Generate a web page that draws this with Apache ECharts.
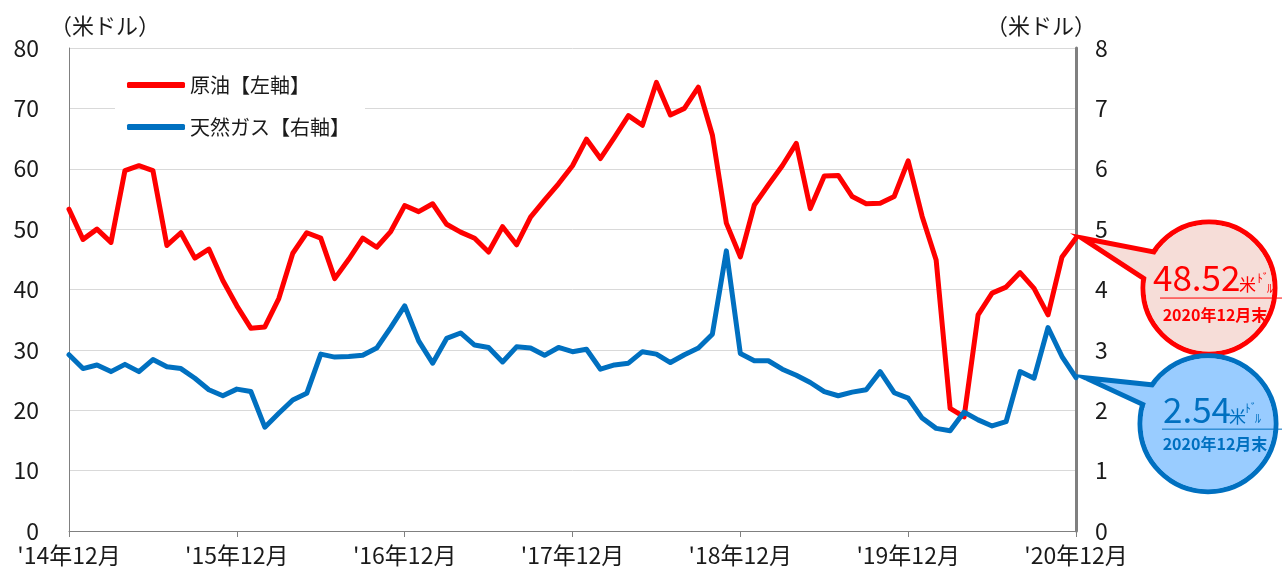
<!DOCTYPE html>
<html><head><meta charset="utf-8">
<script src="https://cdn.jsdelivr.net/npm/echarts@6/dist/echarts.min.js"></script>
<style>html,body{margin:0;padding:0;background:#fff}#c{width:1282px;height:574px}</style>
</head><body><div id="c"></div>
<script>
// categories: monthly from Dec 2014 to Dec 2020
const categories = [];
for (let y = 2014; y <= 2020; y++) {
  for (let m = 1; m <= 12; m++) {
    if (y === 2014 && m < 12) continue;
    if (y === 2020 && m > 12) continue;
    categories.push("'" + String(y).slice(2) + "年" + m + "月");
  }
}
const oilName = '原油【左軸】';
const gasName = '天然ガス【右軸】';
const oil = [53.3,48.3,50.0,47.8,59.7,60.5,59.7,47.3,49.4,45.2,46.7,41.5,37.3,33.6,33.8,38.5,46.0,49.4,48.5,41.8,45.0,48.5,47.0,49.6,
  53.9,52.9,54.2,50.8,49.5,48.5,46.2,50.4,47.4,52.0,54.8,57.5,60.5,64.9,61.7,65.2,68.8,67.2,74.3,68.9,70.0,73.5,65.6,51.0,
  45.4,54.0,57.3,60.5,64.2,53.4,58.8,58.9,55.4,54.2,54.3,55.4,61.3,52.1,44.9,20.3,18.9,35.8,39.4,40.4,42.8,40.2,35.8,45.4,48.52];
const gas = [2.92,2.69,2.75,2.64,2.76,2.64,2.84,2.72,2.69,2.53,2.34,2.24,2.35,2.31,1.72,1.95,2.17,2.28,2.93,2.88,2.89,2.91,3.03,3.37,
  3.73,3.15,2.78,3.19,3.28,3.08,3.04,2.80,3.05,3.03,2.91,3.04,2.97,3.01,2.68,2.75,2.78,2.97,2.93,2.79,2.92,3.03,3.26,4.64,
  2.94,2.82,2.82,2.68,2.58,2.46,2.31,2.24,2.30,2.34,2.64,2.29,2.20,1.87,1.70,1.66,1.97,1.84,1.74,1.81,2.64,2.53,3.37,2.89,2.54];
const unitName = '（米ドル）';
const lastLabel = '2020年12月末';

const FONT = '"Noto Sans CJK JP", "Noto Sans", sans-serif';
const RED = '#ff0000', BLUE = '#0070c0';
const chart = echarts.init(document.getElementById('c'), null, {renderer: 'canvas'});
chart.setOption({
  animation: false,
  textStyle: {fontFamily: FONT},
  grid: {left: 69, right: 206, top: 48, bottom: 43},
  legend: {
    orient: 'vertical', left: 115, top: 64,
    padding: [10, 15, 10, 12], itemGap: 20,
    backgroundColor: '#ffffff',
    icon: 'roundRect', itemWidth: 58, itemHeight: 6,
    textStyle: {fontFamily: FONT, fontSize: 20, color: '#1a1a1a', lineHeight: 22},
    data: [oilName, gasName]
  },
  xAxis: {
    type: 'category', data: categories, boundaryGap: false,
    axisLine: {lineStyle: {color: '#808080', width: 1}},
    axisTick: {interval: 11, length: 6, lineStyle: {color: '#808080'}},
    axisLabel: {interval: 11, fontSize: 23, color: '#1a1a1a', margin: 13, fontFamily: FONT},
    splitLine: {show: false}
  },
  yAxis: [{
    type: 'value', min: 0, max: 80, interval: 10,
    name: unitName, nameLocation: 'end', nameGap: 11,
    nameTextStyle: {fontSize: 22, color: '#1a1a1a', align: 'left', padding: [0, 0, 0, -19], fontFamily: FONT},
    axisLine: {show: true, lineStyle: {color: '#808080', width: 1}},
    axisTick: {show: false},
    axisLabel: {fontSize: 23, color: '#1a1a1a', margin: 30, fontFamily: FONT},
    splitLine: {lineStyle: {color: '#d9d9d9', width: 1}}
  }, {
    type: 'value', min: 0, max: 8, interval: 1, position: 'right',
    name: unitName, nameLocation: 'end', nameGap: 11,
    nameTextStyle: {fontSize: 22, color: '#1a1a1a', align: 'right', padding: [0, -20, 0, 0], fontFamily: FONT},
    axisLine: {show: true, lineStyle: {color: '#808080', width: 3}},
    axisTick: {show: false},
    axisLabel: {fontSize: 23, color: '#1a1a1a', margin: 19, fontFamily: FONT},
    splitLine: {show: false}
  }],
  series: [{
    name: oilName, type: 'line', yAxisIndex: 0, data: oil,
    symbol: 'none', smooth: false,
    lineStyle: {color: RED, width: 5, cap: 'round', join: 'round'},
    itemStyle: {color: RED}
  }, {
    name: gasName, type: 'line', yAxisIndex: 1, data: gas,
    symbol: 'none', smooth: false,
    lineStyle: {color: BLUE, width: 5, cap: 'round', join: 'round'},
    itemStyle: {color: BLUE}
  }]
});

// callouts anchored to last data points
const n = categories.length - 1;
const po = chart.convertToPixel({xAxisIndex: 0, yAxisIndex: 0}, [n, oil[n]]);
const pg = chart.convertToPixel({xAxisIndex: 0, yAxisIndex: 1}, [n, gas[n]]);

function bubble(P, o) {
  const els = [];
  const cx = P[0] + o.c[0], cy = P[1] + o.c[1];
  els.push({type: 'circle', z: 100, shape: {cx, cy, r: o.r}, style: {fill: o.fill, stroke: o.stroke, lineWidth: 5}});
  els.push({type: 'polygon', z: 101, shape: {points: [[P[0] + o.tip[0], P[1] + o.tip[1]], [P[0] + o.b1[0], P[1] + o.b1[1]], [P[0] + o.b2[0], P[1] + o.b2[1]]]},
    style: {fill: o.fill, stroke: o.stroke, lineWidth: 5, lineJoin: 'miter'}});
  els.push({type: 'circle', z: 102, shape: {cx, cy, r: o.r - 2.5}, style: {fill: o.fill}});
  const t = (txt, pos, size, weight, align) => ({type: 'text', z: 103, style: {
    text: txt, x: P[0] + pos[0], y: P[1] + pos[1], fill: o.stroke, font: (weight || 'normal') + ' ' + size + 'px ' + FONT,
    textAlign: align || 'left', textVerticalAlign: 'middle'}});
  els.push(t(o.value, o.v, 35));
  els.push(t('米', o.k1, 17));
  els.push(t('ﾄﾞ', o.k2, 12));
  els.push(t('ﾙ', o.k3, 12));
  els.push({type: 'line', z: 103, shape: {x1: P[0] + o.ul[0], y1: P[1] + o.ul[1], x2: P[0] + o.ul[2], y2: P[1] + o.ul[1]}, style: {stroke: o.stroke, lineWidth: 1}});
  els.push(t(lastLabel, o.d, 16, 'bold', 'center'));
  return els;
}
const g = [].concat(
  bubble(po, {c: [133, 50], r: 66, fill: '#f6ddd8', stroke: RED, tip: [6, 0], b1: [94, 17], b2: [84, 51],
    value: oil[n].toFixed(2), v: [77, 40], k1: [163, 46], k2: [181, 40], k3: [191, 50], ul: [84, 60, 210], d: [139, 77]}),
  bubble(pg, {c: [132, 46], r: 68, fill: '#99ccff', stroke: BLUE, tip: [9, 0], b1: [94, 9], b2: [89, 37],
    value: gas[n].toFixed(2), v: [87, 32], k1: [153, 39], k2: [169, 31], k3: [179, 41], ul: [86, 51.5, 210], d: [139, 66]})
);
chart.setOption({graphic: g});
</script></body></html>
